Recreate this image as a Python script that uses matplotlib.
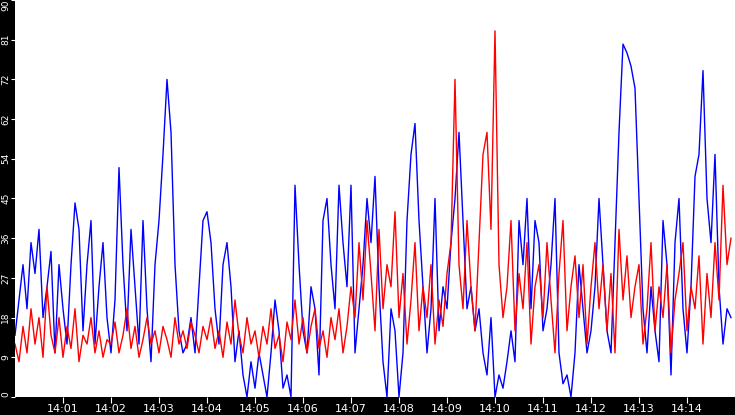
import matplotlib.pyplot as plt
import numpy as np

# values every 5 s from 14:00:00
blue = [14, 22, 30, 20, 35, 28, 38, 18, 25, 33, 10, 30,
        20, 12, 30, 44, 38, 15, 30, 40, 12, 25, 35, 18,
        10, 22, 52, 30, 15, 38, 25, 12, 40, 20, 8, 30,
        40, 55, 72, 60, 30, 15, 10, 12, 18, 10, 25, 40,
        42, 35, 20, 12, 30, 35, 25, 8, 15, 5, 0, 8,
        2, 10, 5, 0, 10, 22, 15, 2, 5, 0, 48, 30,
        15, 10, 25, 20, 5, 40, 45, 30, 20, 48, 35, 25,
        48, 10, 20, 30, 45, 35, 50, 25, 8, 0, 20, 15,
        0, 10, 40, 55, 62, 40, 25, 10, 20, 45, 15, 25,
        20, 35, 45, 60, 40, 20, 25, 15, 20, 10, 5, 18,
        0, 5, 2, 8, 15, 8, 40, 30, 45, 20, 40, 35,
        15, 20, 30, 45, 10, 3, 5, 0, 10, 30, 20, 10,
        15, 25, 45, 30, 15, 10, 35, 60, 80, 78, 75, 70,
        45, 20, 10, 25, 15, 8, 40, 30, 5, 35, 45, 20,
        10, 25, 50, 55, 74, 45, 35, 55, 25, 12, 20, 18]
red = [12, 8, 16, 10, 20, 12, 18, 9, 25, 14, 10, 18,
       9, 16, 11, 20, 8, 14, 12, 18, 10, 15, 9, 13,
       12, 17, 10, 14, 20, 11, 16, 9, 13, 18, 12, 15,
       10, 16, 13, 9, 18, 12, 15, 11, 17, 14, 10, 16,
       13, 18, 11, 15, 9, 17, 12, 22, 14, 10, 18, 12,
       15, 9, 16, 12, 20, 11, 14, 8, 17, 13, 22, 12,
       18, 10, 16, 20, 11, 15, 9, 18, 13, 20, 10, 16,
       25, 18, 35, 22, 40, 28, 15, 38, 20, 30, 25, 42,
       18, 28, 12, 22, 35, 15, 25, 18, 30, 12, 22, 16,
       28, 35, 72, 30, 20, 40, 25, 15, 35, 55, 60, 38,
       83, 30, 18, 25, 40, 15, 28, 20, 35, 12, 25, 30,
       18, 35, 22, 10, 28, 40, 15, 25, 32, 18, 30, 12,
       25, 35, 20, 30, 15, 28, 10, 38, 22, 32, 18, 25,
       30, 12, 20, 35, 15, 25, 18, 30, 10, 22, 28, 35,
       15, 25, 20, 32, 12, 28, 18, 35, 22, 48, 30, 36]
xticks = ["14:01", "14:02", "14:03", "14:04", "14:05", "14:06", "14:07",
          "14:08", "14:09", "14:10", "14:11", "14:12", "14:13", "14:14"]
yticks = [0, 9, 18, 27, 36, 45, 54, 63, 72, 81, 90]
ylabels = ["0", "9", "18", "27", "36", "45", "54", "62", "72", "81", "90"]

t = np.arange(len(blue)) * 5 / 60.0
fig = plt.figure(figsize=(7.35, 4.15), dpi=100, facecolor="black")
ax = fig.add_axes([15 / 735, 18 / 415, 720 / 735, 397 / 415])
ax.plot(t, blue, color="blue", lw=1)
ax.plot(np.arange(len(red)) * 5 / 60.0, red, color="red", lw=1)
ax.set_xlim(0, 15)
ax.set_ylim(0, 90)
ax.set_xticks(range(1, 15))
ax.set_xticklabels(xticks, color="white", fontsize=8)
ax.set_yticks(yticks)
ax.set_yticklabels(ylabels, color="white", fontsize=6.5, rotation=90, va="center")
ax.tick_params(colors="white", length=4, pad=1)
ax.tick_params(axis="y", length=3, pad=0.5)
ax.get_yticklabels()[0].set_va("bottom")
ax.get_yticklabels()[-1].set_va("top")
for s in ax.spines.values():
    s.set_visible(False)
fig.savefig("out.png", facecolor="black")
